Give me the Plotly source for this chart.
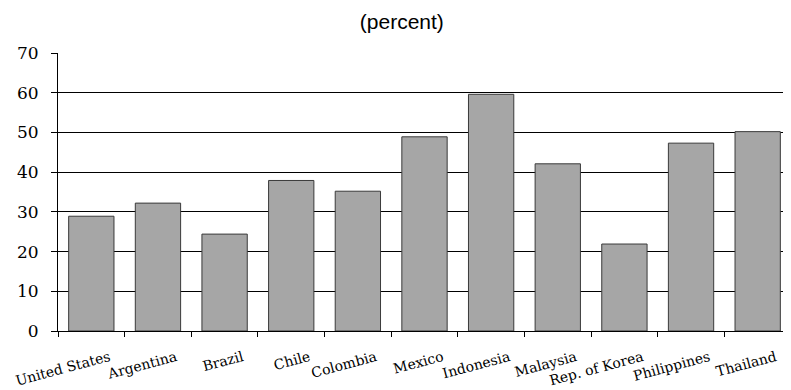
import plotly.graph_objects as go

countries = ["United States", "Argentina", "Brazil", "Chile", "Colombia", "Mexico",
             "Indonesia", "Malaysia", "Rep. of Korea", "Philippines", "Thailand"]
values = [28.9, 32.2, 24.4, 37.9, 35.2, 48.9, 59.6, 42.1, 21.9, 47.3, 50.2]
y_ticks = [0, 10, 20, 30, 40, 50, 60, 70]

fig = go.Figure()
fig.add_trace(go.Bar(
    x=countries, y=values,
    marker=dict(color="#a6a6a6", line=dict(color="#3a3a3a", width=1)),
))

fig.update_layout(
    width=783, height=382,
    margin=dict(l=50, r=0, t=45, b=59),
    plot_bgcolor="white", paper_bgcolor="white",
    bargap=0.32,
    showlegend=False,
    title=dict(text="(percent)", x=0.503, xanchor="center", y=0.963, yanchor="middle",
               font=dict(family="Liberation Sans, Arial", size=21, color="black")),
    font=dict(family="DejaVu Serif", color="black"),
)
fig.update_xaxes(
    type="category", tickson="boundaries", ticks="outside", ticklen=5,
    tickcolor="black", showline=True, linecolor="black", linewidth=1,
    tickangle=-15, ticklabelshift=18, ticklabelstandoff=12,
    tickfont=dict(family="DejaVu Serif", size=14, color="black"),
    showgrid=False,
)
fig.update_yaxes(
    range=[0, 70], tickvals=y_ticks, ticks="outside", ticklen=6, tickcolor="black",
    showline=True, linecolor="black", linewidth=1,
    showgrid=True, gridcolor="black", gridwidth=1,
    tickfont=dict(family="DejaVu Serif", size=17, color="black"),
    ticklabelstandoff=9,
    zeroline=False,
)
fig.write_html("out.html")
